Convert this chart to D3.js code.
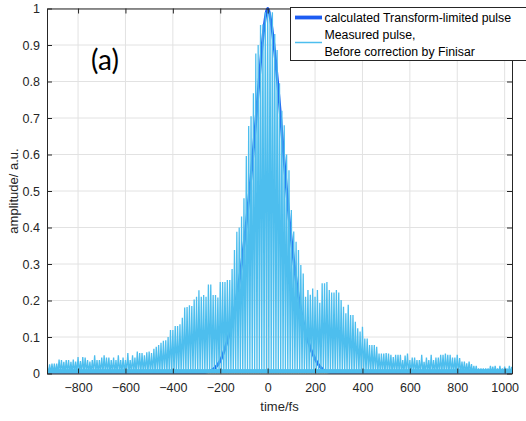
<!DOCTYPE html>
<html>
<head>
<meta charset="utf-8">
<script src="https://cdn.jsdelivr.net/npm/d3@7"></script>
<style>
  body { margin: 0; background: #fff; }
  svg { display: block; font-family: "Liberation Sans", Arial, sans-serif; }
</style>
</head>
<body>
<svg id="canvas" width="526" height="421"></svg>
<script>
// x ticks / y ticks
let xTicks = [-800, -600, -400, -200, 0, 200, 400, 600, 800, 1000]
let yTicks = [0, 0.1, 0.2, 0.3, 0.4, 0.5, 0.6, 0.7, 0.8, 0.9, 1]

// measured pulse: fringe peak heights, one every 10 fs starting at -930 fs
let fringeStart = -930
let fringeStep = 10
let fringePeaks = [
  0.020, 0.025, 0.027, 0.027, 0.027, 0.038, 0.037, 0.032, 0.037, 0.037,
  0.032, 0.038, 0.033, 0.045, 0.034, 0.045, 0.044, 0.037, 0.033, 0.037,
  0.050, 0.037, 0.037, 0.044, 0.050, 0.044, 0.044, 0.037, 0.044, 0.037,
  0.050, 0.037, 0.044, 0.037, 0.056, 0.037, 0.050, 0.044, 0.060, 0.056,
  0.056, 0.050, 0.058, 0.060, 0.056, 0.068, 0.073, 0.078, 0.084, 0.090,
  0.091, 0.100, 0.119, 0.119, 0.130, 0.130, 0.135, 0.153, 0.181, 0.182,
  0.187, 0.185, 0.203, 0.210, 0.228, 0.210, 0.215, 0.210, 0.244, 0.244,
  0.215, 0.215, 0.208, 0.251, 0.251, 0.251, 0.256, 0.256, 0.286, 0.338,
  0.388, 0.400, 0.430, 0.480, 0.596, 0.678, 0.705, 0.768, 0.877, 0.900,
  0.955, 0.957, 0.990, 0.995, 0.990, 0.990, 0.930, 0.886, 0.795, 0.720,
  0.680, 0.600, 0.557, 0.448, 0.389, 0.361, 0.338, 0.297, 0.274, 0.210,
  0.229, 0.216, 0.233, 0.210, 0.229, 0.194, 0.247, 0.247, 0.251, 0.229,
  0.222, 0.222, 0.229, 0.222, 0.201, 0.183, 0.165, 0.188, 0.160, 0.160,
  0.142, 0.124, 0.115, 0.128, 0.096, 0.096, 0.078, 0.078, 0.078, 0.073,
  0.055, 0.055, 0.055, 0.056, 0.055, 0.051, 0.045, 0.051, 0.051, 0.051,
  0.037, 0.049, 0.055, 0.037, 0.044, 0.044, 0.037, 0.037, 0.051, 0.032,
  0.044, 0.037, 0.051, 0.037, 0.044, 0.044, 0.051, 0.051, 0.055, 0.051,
  0.051, 0.044, 0.044, 0.051, 0.042, 0.033, 0.033, 0.028, 0.033, 0.026,
  0.021, 0.021, 0.014, 0.014, 0.014, 0.014, 0.014, 0.021, 0.019, 0.021,
  0.014, 0.021, 0.014, 0.019, 0.014, 0.021, 0.018
]
// the noise floor the fringes sit on
let floorLevel = 0.012

// calculated transform-limited pulse
let calcTime = [-931, -300, -250, -200, -170, -150, -130, -110, -90, -70, -50, -30, -15, 0,
  15, 30, 50, 70, 90, 110, 130, 150, 170, 200, 250, 300, 1031]
let calcAmp = [0, 0, 0.005, 0.035, 0.09, 0.14, 0.21, 0.30, 0.41, 0.54, 0.69, 0.85, 0.95, 1.0,
  0.96, 0.88, 0.74, 0.58, 0.43, 0.31, 0.21, 0.14, 0.09, 0.04, 0.005, 0, 0]

let legendLabels = ['calculated Transform-limited pulse', 'Measured pulse,', 'Before correction by Finisar']

let darkBlue = '#1c5cf2'
let lightBlue = '#4dbeee'
let axisColor = '#262626'

let canvas = d3.select('#canvas')

let plotLeft = 47, plotRight = 512, plotTop = 8.5, plotBottom = 373.5

let xScale = d3.scaleLinear().domain([-931, 1031]).range([plotLeft, plotRight])
let yScale = d3.scaleLinear().domain([0, 1]).range([plotBottom, plotTop])

canvas.append('defs').append('clipPath').attr('id', 'plotClip')
  .append('rect')
  .attr('x', plotLeft).attr('y', plotTop - 2)
  .attr('width', plotRight - plotLeft).attr('height', plotBottom - plotTop + 2)

// grid
let grid = canvas.append('g')
grid.selectAll('.gx')
  .data(xTicks)
  .enter()
  .append('line')
  .attr('x1', d => xScale(d)).attr('x2', d => xScale(d))
  .attr('y1', plotTop).attr('y2', plotBottom)
  .attr('stroke', '#e2e2e2')
grid.selectAll('.gy')
  .data(yTicks)
  .enter()
  .append('line')
  .attr('x1', plotLeft).attr('x2', plotRight)
  .attr('y1', d => yScale(d)).attr('y2', d => yScale(d))
  .attr('stroke', '#e2e2e2')

let plot = canvas.append('g').attr('clip-path', 'url(#plotClip)')

// calculated line (drawn first, the measured pulse lies over it)
let calcPoints = calcTime.map((t, i) => [t, calcAmp[i]])
plot.append('path')
  .datum(calcPoints)
  .attr('fill', 'none')
  .attr('stroke', darkBlue)
  .attr('stroke-width', 2.8)
  .attr('d', d3.line()
    .x(d => xScale(d[0]))
    .y(d => yScale(d[1]))
    .curve(d3.curveMonotoneX))

// measured pulse: up to each fringe peak, back down to 0 in between
let measured = []
fringePeaks.forEach((p, i) => {
  let t = fringeStart + i * fringeStep
  measured.push([t - fringeStep / 2, 0])
  measured.push([t, p])
})
measured.push([fringeStart + fringePeaks.length * fringeStep - fringeStep / 2, 0])

plot.append('rect')
  .attr('x', plotLeft)
  .attr('y', yScale(floorLevel))
  .attr('width', plotRight - plotLeft)
  .attr('height', yScale(0) - yScale(floorLevel))
  .attr('fill', lightBlue)

plot.append('path')
  .datum(measured)
  .attr('fill', 'none')
  .attr('stroke', lightBlue)
  .attr('stroke-width', 1.3)
  .attr('d', d3.line()
    .x(d => xScale(d[0]))
    .y(d => yScale(d[1])))

// axes, MATLAB style box with inward ticks
let styleAxis = (g) => {
  g.selectAll('path').attr('stroke', axisColor)
  g.selectAll('line').attr('stroke', axisColor)
  g.selectAll('text').attr('fill', axisColor).style('font-size', '12.5px')
}

canvas.append('g')
  .attr('transform', `translate(0,${plotBottom})`)
  .call(d3.axisBottom(xScale).tickValues(xTicks).tickSizeInner(-5).tickSizeOuter(0).tickPadding(10)
    .tickFormat(d3.format('d')))
  .call(styleAxis)
canvas.append('g')
  .attr('transform', `translate(0,${plotTop})`)
  .call(d3.axisTop(xScale).tickValues(xTicks).tickSizeInner(-5).tickSizeOuter(0).tickFormat(''))
  .call(styleAxis)
canvas.append('g')
  .attr('transform', `translate(${plotLeft},0)`)
  .call(d3.axisLeft(yScale).tickValues(yTicks).tickSizeInner(-5).tickSizeOuter(0).tickPadding(7)
    .tickFormat(d3.format('.1~f')))
  .call(styleAxis)
canvas.append('g')
  .attr('transform', `translate(${plotRight},0)`)
  .call(d3.axisRight(yScale).tickValues(yTicks).tickSizeInner(-5).tickSizeOuter(0).tickFormat(''))
  .call(styleAxis)

canvas.selectAll('.domain').attr('fill', 'none')

// axis titles
canvas.append('text')
  .attr('x', (plotLeft + plotRight) / 2)
  .attr('y', 411)
  .attr('text-anchor', 'middle')
  .attr('fill', axisColor)
  .style('font-size', '13px')
  .text('time/fs')

canvas.append('text')
  .attr('transform', `translate(18,${(plotTop + plotBottom) / 2}) rotate(-90)`)
  .attr('text-anchor', 'middle')
  .attr('fill', axisColor)
  .style('font-size', '13px')
  .text('amplitude/ a.u.')

// panel label
canvas.append('text')
  .attr('x', 105)
  .attr('y', 70)
  .attr('text-anchor', 'middle')
  .attr('fill', '#000')
  .style('font-family', 'Lato, "Open Sans", sans-serif')
  .style('font-size', '28px')
  .text('(a)')

// legend
let legend = canvas.append('g')
legend.append('rect')
  .attr('x', 290.5).attr('y', 7.5)
  .attr('width', 260).attr('height', 53)
  .attr('fill', '#fff')
  .attr('stroke', axisColor)
  .attr('stroke-width', 1)
legend.append('line')
  .attr('x1', 295).attr('x2', 322).attr('y1', 17.5).attr('y2', 17.5)
  .attr('stroke', darkBlue).attr('stroke-width', 3.8)
legend.append('line')
  .attr('x1', 295).attr('x2', 322).attr('y1', 42.5).attr('y2', 42.5)
  .attr('stroke', lightBlue).attr('stroke-width', 1.5)
legend.selectAll('.lt')
  .data(legendLabels)
  .enter()
  .append('text')
  .attr('x', 324.5)
  .attr('y', (d, i) => 22 + i * 17.2)
  .attr('fill', '#000')
  .style('font-size', '12.3px')
  .text(d => d)
</script>
</body>
</html>
